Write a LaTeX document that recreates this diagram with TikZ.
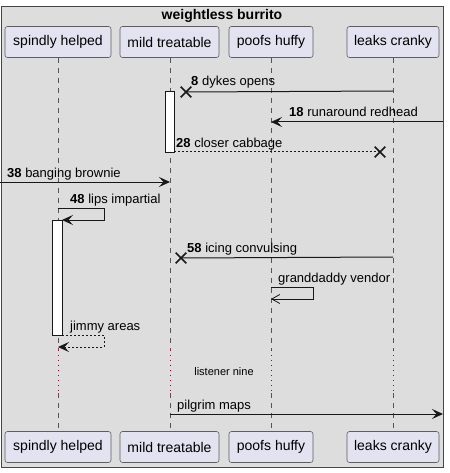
\documentclass[tikz,border=0pt]{standalone}
\usepackage{fontspec}
\setmainfont{Liberation Sans}
\usetikzlibrary{arrows.meta,shapes.misc}
\definecolor{bg}{HTML}{DDDDDD}
\definecolor{pbox}{HTML}{E2E2F0}
\definecolor{dred}{HTML}{A80036}
\definecolor{ln}{HTML}{181818}
\definecolor{lifeln}{HTML}{555555}
\begin{document}
\begin{tikzpicture}[x=1pt,y=-1pt,
  partbox/.style={draw=ln!70, line width=0.6pt, fill=pbox, rounded corners=2.5pt,
    minimum height=31pt, inner sep=0pt, font=\fontsize{14}{16}\selectfont},
  actbox/.style={draw=ln, line width=0.8pt, fill=white},
  lifeline/.style={draw=lifeln, line width=0.6pt, dash pattern=on 5pt off 5pt},
  delayline/.style={draw=dred, line width=0.8pt, dash pattern=on 1pt off 4pt},
  msg/.style={draw=ln, line width=1pt, -{Stealth[length=11pt,width=10pt,inset=4.5pt]}},
  msgnoarrow/.style={draw=ln, line width=1pt},
  openmsg/.style={draw=ln, line width=0.8pt, -{Straight Barb[length=8pt,width=9pt]}},
  retmsg/.style={msg, dash pattern=on 2pt off 2pt},
  xmark/.style={cross out, draw=ln, line width=1.6pt, minimum size=9pt, inner sep=0pt},
  lbl/.style={anchor=base west, inner sep=0pt, font=\fontsize{13}{15}\selectfont},
]
\useasboundingbox (0,0) rectangle (449,473);
% frame
\draw[fill=bg, draw=ln!80, line width=0.8pt] (1,6) rectangle (443,467);
\node[anchor=base, inner sep=0pt, font=\fontsize{14}{16}\selectfont\bfseries] (title) at (222,20) {weightless burrito};

% participants
\node[partbox, minimum width=106pt] (p1t) at (58,42) {spindly helped};
\node[partbox, minimum width=99pt] (p2t) at (169.5,42) {mild treatable};
\node[partbox, minimum width=84pt] (p3t) at (271,42) {poofs huffy};
\node[partbox, minimum width=92pt] (p4t) at (393,42) {leaks cranky};
\node[partbox, minimum width=106pt] (p1b) at (58,447) {spindly helped};
\node[partbox, minimum width=99pt] (p2b) at (169.5,447) {mild treatable};
\node[partbox, minimum width=84pt] (p3b) at (271,447) {poofs huffy};
\node[partbox, minimum width=92pt] (p4b) at (393,447) {leaks cranky};

% lifelines with delay
\foreach \p/\x in {1/58,2/170,3/271,4/393}{
  \coordinate (d\p a) at (\x,350);
  \coordinate (d\p b) at (\x,393);
  \draw[lifeline] (p\p t.south -| d\p a) -- (d\p a);
  \draw[delayline] (d\p a) -- (d\p b);
  \draw[lifeline] (d\p b) -- (p\p b.north -| d\p b);
}
\node[font=\fontsize{11}{13}\selectfont, inner sep=0pt] (delay) at (224,372) {listener nine};

% activations
\draw[actbox] (165,91) rectangle (174,152);
\draw[actbox] (52,220) rectangle (62,335);

% 8 dykes opens
\coordinate (m1s) at (393,91);
\node[xmark] (x1) at (186,92) {};
\draw[msgnoarrow] (m1s) -- (x1.center);
\node[lbl] (l1) at (191,86) {\textbf{8} dykes opens};

% 18 runaround redhead
\coordinate (m2s) at (443,122);
\coordinate (m2e) at (271,122);
\draw[msg] (m2s) -- (m2e);
\node[lbl] (l2) at (289,117) {\textbf{18} runaround redhead};

% 28 closer cabbage
\coordinate (m3s) at (174,152);
\node[xmark] (x3) at (380,152) {};
\draw[msgnoarrow, dash pattern=on 2pt off 2pt] (m3s) -- (x3.center);
\node[lbl] (l3) at (176,147) {\textbf{28} closer cabbage};

% 38 banging brownie
\coordinate (m4s) at (0,182);
\coordinate (m4e) at (170,182);
\draw[msg] (m4s) -- (m4e);
\node[lbl] (l4) at (7,177) {\textbf{38} banging brownie};

% 48 lips impartial
\coordinate (m5s) at (58,208);
\coordinate (m5e) at (62,220);
\draw[msg] (m5s) -- (104,208) -- (104,220) -- (m5e);
\node[lbl] (l5) at (70,203) {\textbf{48} lips impartial};

% 58 icing convulsing
\coordinate (m6s) at (393,257);
\node[xmark] (x6) at (181,258) {};
\draw[msgnoarrow] (m6s) -- (x6.center);
\node[lbl] (l6) at (187,252) {\textbf{58} icing convulsing};

% granddaddy vendor
\coordinate (m7s) at (271,287);
\coordinate (m7e) at (271,299);
\draw[openmsg] (m7s) -- (313,287) -- (313,299) -- (m7e);
\node[lbl] (l7) at (278,282) {granddaddy vendor};

% jimmy areas
\coordinate (m8s) at (62,335);
\coordinate (m8e) at (58,347);
\draw[retmsg] (m8s) -- (104,335) -- (104,347) -- (m8e);
\node[lbl] (l8) at (70,330) {jimmy areas};

% pilgrim maps
\coordinate (m9s) at (170,414);
\coordinate (m9e) at (443,414);
\draw[msg] (m9s) -- (m9e);
\node[lbl] (l9) at (177,409) {pilgrim maps};
\end{tikzpicture}
\end{document}
